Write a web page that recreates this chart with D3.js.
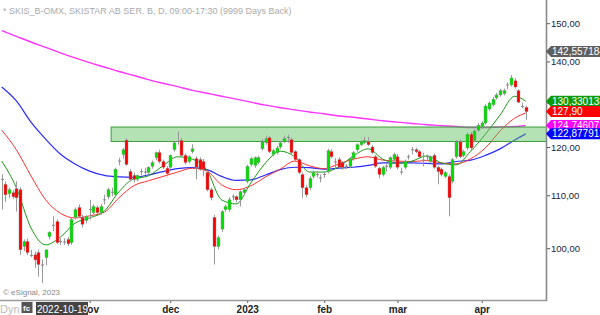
<!DOCTYPE html>
<html>
<head>
<meta charset="utf-8">
<script src="https://cdn.jsdelivr.net/npm/d3@7"></script>
<style>
  body { margin: 0; background: #fff; }
  svg { display: block; font-family: "Liberation Sans", Arial, sans-serif; }
</style>
</head>
<body>
<svg id="chart" width="600" height="315"></svg>
<script>
// trading calendar (Nasdaq Stockholm)
const startDay = "2022-09-28", endDay = "2023-04-21";
const holidays = ["2022-12-26", "2023-01-06", "2023-04-07", "2023-04-10"];
const monthTicks = ["2022-11-01", "2022-12-01", "2023-01-02", "2023-02-01", "2023-03-01", "2023-04-03"];
const monthLabels = ["nov", "dec", "2023", "feb", "mar", "apr"];
const priceTicks = [100, 110, 120, 130, 140, 150];

// daily candles [open, high, low, close]
const ohlc = [
  [113.3,114.2,107.2,113.2],[112.2,112.8,108.7,110.1],[110.3,111.5,109.5,111.1],[110.5,111.0,109.3,109.7],
  [111.3,112.8,106.8,109.5],[111.1,111.6,98.8,99.7],[100.3,101.6,99.5,101.2],[101.2,101.8,98.8,99.2],
  [98.8,99.7,98.4,98.7],[98.8,99.4,96.5,97.9],[99.2,99.7,95.0,97.1],[97.1,98.0,93.9,97.0],
  [98.3,98.8,97.0,99.7],[102.1,103.1,101.6,102.9],[104.3,105.9,103.1,104.2],[104.9,105.3,100.8,101.0],
  [101.2,101.8,100.6,101.3],[101.2,101.8,100.6,101.1],[101.6,102.0,100.4,100.8],[101.0,105.6,100.6,105.3],
  [105.7,107.6,105.3,107.2],[107.6,108.2,105.6,105.9],[105.7,106.2,103.8,104.4],[105.1,106.1,104.6,105.9],
  [107.2,109.1,105.3,107.3],[106.6,108.2,106.2,107.8],[107.6,108.0,106.3,106.6],[106.6,108.3,106.2,107.8],
  [109.1,110.1,108.2,109.2],[109.7,111.5,109.2,111.1],[110.7,111.5,109.8,110.6],[110.1,115.6,109.7,115.3],
  [117.0,117.7,116.1,117.1],[118.4,119.8,117.5,119.4],[121.5,121.9,116.0,116.3],[114.8,115.3,112.8,113.2],
  [114.0,114.6,112.6,113.2],[113.2,114.2,112.8,114.0],[114.8,115.4,114.0,114.9],[114.8,115.5,114.2,114.7],
  [114.6,115.9,114.2,115.7],[115.9,117.1,115.4,116.7],[117.7,119.0,117.2,118.8],[118.8,119.4,116.5,116.9],
  [116.9,117.3,115.3,115.7],[115.5,115.9,114.0,114.4],[115.7,118.4,115.4,118.2],[119.4,121.3,119.0,120.9],
  [121.2,123.4,120.5,121.3],[121.4,122.0,118.0,118.2],[118.2,118.6,116.3,116.7],[116.9,118.2,116.5,117.9],
  [119.0,120.6,118.6,119.6],[117.5,118.0,113.2,115.7],[117.3,117.8,115.0,115.3],[116.9,117.4,113.8,115.3],
  [114.6,115.0,110.8,111.1],[111.1,111.5,109.0,109.5],[105.7,106.2,97.1,100.3],[100.3,102.3,99.8,101.9],
  [103.5,107.1,103.0,106.8],[107.2,108.2,106.8,107.8],[107.2,109.6,106.8,109.1],[109.7,110.2,109.0,109.8],
  [109.7,110.0,108.6,109.1],[109.1,111.0,107.8,110.7],[110.5,111.4,110.1,111.1],[112.8,116.2,112.4,115.9],
  [116.3,117.8,115.9,117.5],[116.1,118.0,115.6,117.7],[116.7,118.1,116.3,117.7],[119.6,121.7,119.2,121.1],
  [120.9,122.5,120.5,121.8],[122.0,122.4,118.7,119.0],[118.4,119.6,118.0,119.2],[118.8,120.2,118.4,119.8],
  [120.0,121.3,119.6,120.9],[121.1,122.5,120.8,121.8],[122.2,122.7,120.9,122.1],[121.6,122.0,118.5,118.8],
  [119.0,119.3,117.0,117.3],[117.3,117.6,114.3,114.6],[114.2,114.6,109.5,111.5],[111.5,112.0,109.6,110.1],
  [111.5,113.8,111.1,113.4],[113.8,115.0,113.4,114.6],[114.2,114.8,113.6,114.3],[113.6,114.2,112.6,113.5],
  [114.2,114.8,113.5,114.3],[114.8,119.6,114.4,119.2],[119.0,119.5,117.6,117.9],[116.9,117.6,115.4,116.8],
  [117.3,117.8,115.3,115.7],[116.7,117.0,115.2,115.7],[115.9,116.4,115.3,116.0],[115.9,117.8,115.5,117.5],
  [117.5,119.1,117.1,118.8],[119.4,120.8,119.0,120.5],[120.5,121.5,120.2,121.1],[120.9,122.2,120.6,121.4],
  [121.1,122.2,120.2,120.5],[120.0,120.4,118.5,118.8],[117.9,118.3,115.6,115.9],[115.5,115.8,113.4,114.2],
  [114.2,116.0,113.8,115.7],[115.9,116.5,114.8,116.0],[115.7,118.0,115.3,117.7],[117.3,118.8,116.9,118.4],
  [117.9,118.5,115.3,115.7],[114.8,115.6,114.2,114.7],[115.7,117.3,115.3,116.9],[117.9,118.4,117.3,118.0],
  [119.4,120.0,118.4,119.5],[119.4,119.8,118.7,119.0],[119.0,119.3,117.6,117.9],[117.3,118.8,115.9,117.2],
  [117.9,118.4,117.2,118.0],[116.9,118.2,116.5,117.9],[118.2,118.6,115.4,115.7],[115.7,116.0,112.2,114.8],
  [115.3,115.6,113.8,114.2],[113.8,114.9,113.4,114.6],[113.8,114.2,105.9,109.5],[112.8,117.6,112.4,117.3],
  [117.9,121.5,117.5,121.1],[121.1,121.6,117.6,117.9],[118.2,119.4,117.8,119.0],[119.8,123.2,119.4,122.8],
  [122.8,123.3,119.3,119.8],[121.4,123.9,121.0,123.5],[123.7,125.3,123.3,124.8],[124.4,125.7,124.0,125.3],
  [125.3,129.6,124.9,129.2],[128.5,130.3,128.1,129.9],[129.5,131.3,129.1,130.8],[131.1,132.3,130.7,131.8],
  [131.8,133.3,131.4,132.8],[132.1,133.3,131.7,132.8],[134.2,134.8,133.2,134.3],[134.2,136.6,133.8,135.9],
  [135.2,135.8,133.3,133.7],[132.8,133.2,129.9,130.1],[129.2,130.0,128.7,129.1],[128.9,129.3,126.0,127.9]
];

// moving averages read every 4th session (plus the last one)
const maGreen = [117.0,111.5,103.7,100.6,102.0,104.6,105.6,106.9,110.7,113.3,113.9,116.0,117.9,117.4,115.1,109.1,108.3,112.5,
  116.6,119.1,117.9,114.7,114.7,115.8,118.1,119.6,117.4,116.5,117.0,118.1,116.6,116.2,119.1,122.8,127.1,131.5,130.33];
const maRed = [123.7,119.4,113.9,109.1,106.5,105.6,106.0,106.7,109.5,111.9,112.9,113.8,114.7,115.5,114.9,112.1,111.1,111.9,
  113.7,115.3,117.0,116.0,115.4,116.4,117.4,117.9,117.2,117.0,116.9,117.1,116.6,116.4,117.5,119.8,123.5,126.4,127.6];
const maBlue = [133.7,130.4,125.5,121.7,118.5,116.4,114.9,114.0,113.7,113.6,114.1,114.8,115.4,115.6,115.2,113.8,113.0,113.1,
  114.1,115.2,115.7,115.6,115.3,115.5,115.7,116.1,116.6,116.6,116.6,116.5,116.4,116.9,117.2,118.2,119.6,121.5,122.88];
const maMagenta = [148.0,146.5,145.0,143.6,142.2,140.9,139.7,138.6,137.5,136.5,135.5,134.6,133.8,132.9,132.2,131.5,130.8,130.1,
  129.4,128.8,128.3,127.8,127.4,126.9,126.6,126.2,125.8,125.5,125.2,124.9,124.7,124.5,124.3,124.3,124.4,124.5,124.75];

// resistance zone
const zoneFrom = "2022-11-09", zoneTop = 124.4, zoneBottom = 121.2;

// last-value tags on the price scale
const tagValues = [142.557184, 130.330138, 127.90, 124.746071, 122.877913];
const tagTexts = ["142,557184", "130,330138", "127,90", "124,746071", "122,877913"];
const tagColors = ["#5f5f5f", "#0a9a0a", "#ff0000", "#ff00ff", "#0000ff"];

const W = 546, H = 300;
const svg = d3.select("#chart");

const parse = d3.timeParse("%Y-%m-%d"), fmt = d3.timeFormat("%Y-%m-%d");
const days = d3.timeDay.range(parse(startDay), d3.timeDay.offset(parse(endDay), 1))
  .filter(d => d.getDay() % 6 !== 0)
  .map(fmt)
  .filter(s => !holidays.includes(s));

const x = d3.scalePoint().domain(days).range([1.7, 525.7]);
const y = d3.scaleLog().domain([91.08, 156.4]).range([H, 0]);

const maIdx = d3.range(0, days.length, 4);
if (maIdx[maIdx.length - 1] !== days.length - 1) maIdx.push(days.length - 1);

svg.append("clipPath").attr("id", "plot")
  .append("rect").attr("width", W).attr("height", H);

const plot = svg.append("g").attr("clip-path", "url(#plot)");

// title
svg.append("text").attr("x", 3).attr("y", 14)
  .attr("font-size", 9).attr("fill", "#aaa")
  .text("* SKIS_B-OMX, SKISTAR AB SER. B, D, 09:00-17:30 (9999 Days Back)");

// moving averages
const maLine = d3.line()
  .x((d, i) => x(days[maIdx[i]]))
  .y(d => y(d))
  .curve(d3.curveMonotoneX);

[[maMagenta, "#ff33ff", 1.4], [maBlue, "#2b2bff", 1.2], [maRed, "#ff3030", 1], [maGreen, "#1a9a1a", 1]]
  .forEach(([vals, col, w]) => {
    plot.append("path").datum(vals)
      .attr("fill", "none").attr("stroke", col).attr("stroke-width", w)
      .attr("d", maLine);
  });

// zone box
plot.append("rect")
  .attr("x", x(zoneFrom) - 0.5)
  .attr("y", y(zoneTop))
  .attr("width", W + 5 - x(zoneFrom))
  .attr("height", y(zoneBottom) - y(zoneTop))
  .attr("fill", "#5cbf5c").attr("fill-opacity", 0.45)
  .attr("stroke", "#3a9f3a").attr("stroke-width", 1);

// candles
const candle = plot.selectAll("g.candle").data(ohlc).join("g").attr("class", "candle");
candle.append("line")
  .attr("x1", (d, i) => Math.round(x(days[i])) + 0.5)
  .attr("x2", (d, i) => Math.round(x(days[i])) + 0.5)
  .attr("y1", d => y(d[1])).attr("y2", d => y(d[2]))
  .attr("stroke", "#999").attr("stroke-width", 1);
candle.append("rect")
  .attr("x", (d, i) => Math.round(x(days[i])) - 1)
  .attr("width", 3)
  .attr("y", d => Math.min(y(d[0]), y(d[3])))
  .attr("height", d => Math.max(1, Math.abs(y(d[0]) - y(d[3]))))
  .attr("fill", d => {
    if (Math.abs(y(d[0]) - y(d[3])) < 1) return "#888";
    return d[3] > d[0] ? "#00e000" : "#ff0000";
  })
  .attr("stroke", d => Math.abs(y(d[0]) - y(d[3])) < 1 ? "none" : "#8a8a8a")
  .attr("stroke-width", 0.4);

// right price axis
const yAxis = svg.append("g").attr("transform", `translate(${W},0)`)
  .call(d3.axisRight(y).tickValues(priceTicks).tickSize(4)
    .tickFormat(d => d3.format(".2f")(d).replace(".", ",")));
yAxis.select(".domain").remove();
yAxis.selectAll("line").attr("stroke", "#555");
yAxis.selectAll("text").attr("x", 5).attr("fill", "#1c1c3c")
  .attr("font-size", 9.5).attr("font-family", "Liberation Sans, Arial, sans-serif");

// bottom time axis
const xAxis = svg.append("g").attr("transform", `translate(0,${H})`)
  .call(d3.axisBottom(x).tickValues(monthTicks).tickSize(3)
    .tickFormat((d, i) => monthLabels[i]));
xAxis.select(".domain").remove();
xAxis.selectAll("line").attr("stroke", "#555");
xAxis.selectAll("text").attr("fill", "#222").attr("font-weight", "bold")
  .attr("font-size", 10).attr("font-family", "Liberation Sans, Arial, sans-serif");

// frame lines
svg.append("line").attr("x1", 0).attr("x2", W + 0.75).attr("y1", H + 0.5).attr("y2", H + 0.5)
  .attr("stroke", "#9a9a9a").attr("stroke-width", 1.6);
svg.append("line").attr("x1", W + 0.5).attr("x2", W + 0.5).attr("y1", 0).attr("y2", H + 1)
  .attr("stroke", "#8a8a8a").attr("stroke-width", 1.6);

// value tags
tagValues.forEach((v, i) => {
  const ty = y(v);
  svg.append("path")
    .attr("d", `M${W},${ty} L${W + 5},${ty - 5.5} L600,${ty - 5.5} L600,${ty + 5.5} L${W + 5},${ty + 5.5} Z`)
    .attr("fill", tagColors[i]);
  svg.append("text").attr("x", W + 6).attr("y", ty + 3.6)
    .attr("font-size", 10).attr("fill", "#fff").text(tagTexts[i]);
});

// footer
svg.append("text").attr("x", 3).attr("y", 295).attr("font-size", 8).attr("fill", "#888")
  .text("\u00a9 eSignal, 2023");
svg.append("text").attr("x", 0).attr("y", 313).attr("font-size", 11).attr("fill", "#bbb").text("Dyn");
svg.append("rect").attr("x", 21.5).attr("y", 302).attr("width", 11).attr("height", 11).attr("fill", "#555");
svg.append("text").attr("x", 23).attr("y", 311).attr("font-size", 8).attr("font-weight", "bold")
  .attr("fill", "#fff").text("fc");
svg.append("rect").attr("x", 36).attr("y", 302).attr("width", 52).attr("height", 13).attr("fill", "#444");
svg.append("text").attr("x", 37).attr("y", 313).attr("font-size", 10).attr("fill", "#fff").text("2022-10-19");
</script>
</body>
</html>
